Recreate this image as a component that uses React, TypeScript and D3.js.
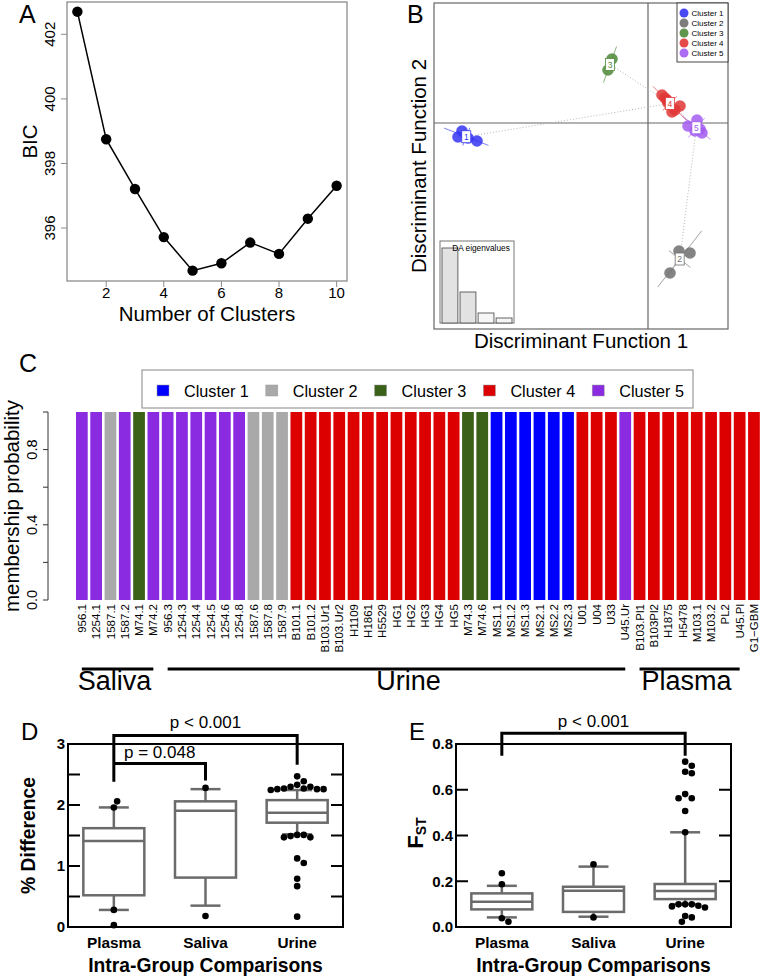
import React from "react";
import * as d3 from "d3";

const FONT = "'Liberation Sans', Arial, Helvetica, sans-serif";

// ---------- Panel A : BIC ----------
const bicK = [1, 2, 3, 4, 5, 6, 7, 8, 9, 10];
const bicValues = [402.7, 398.75, 397.21, 395.72, 394.68, 394.91, 395.55, 395.2, 396.29, 397.31];
const bicXTicks = [2, 4, 6, 8, 10];
const bicYTicks = [396, 398, 400, 402];

// ---------- Panel B : DAPC scatter ----------
const clusterLabels = ["Cluster 1", "Cluster 2", "Cluster 3", "Cluster 4", "Cluster 5"];
const dapcColors = ["#3535f2", "#6f6f6f", "#4f8a3a", "#e03636", "#a35cf0"];
const dapcCluster = [1, 1, 1, 1, 2, 2, 2, 3, 3, 4, 4, 4, 4, 4, 4, 4, 5, 5, 5, 5, 5];
const dapcDF1 = [-9.3, -9.5, -8.55, -9.0, 1.55, 2.1, 1.1, -1.8, -2.0, 0.7, 0.95, 1.6, 1.2, 1.0, 0.85, 1.35, 2.0, 2.45, 2.35, 2.7, 2.6];
const dapcDF2 = [-0.4, -0.7, -0.9, -0.75, -6.4, -6.5, -7.5, 3.2, 2.65, 1.4, 1.15, 0.85, 0.55, 1.0, 1.25, 0.65, -0.15, 0.15, -0.4, -0.5, -0.3];
const mstEdges = [[1, 4], [3, 4], [4, 5], [5, 2]];
const eigenvalues = [7.5, 3.1, 1.0, 0.5];

// ---------- Panel C : membership ----------
const sampleNames = [
  "956.1", "1254.1", "1587.1", "1587.2", "M74.1", "M74.2", "956.3", "1254.3", "1254.4", "1254.5",
  "1254.6", "1254.8", "1587.6", "1587.8", "1587.9", "B101.1", "B101.2", "B103.Ur1", "B103.Ur2", "H1109",
  "H1861", "H5529", "HG1", "HG2", "HG3", "HG4", "HG5", "M74.3", "M74.6", "MS1.1",
  "MS1.2", "MS1.3", "MS2.1", "MS2.2", "MS2.3", "U01", "U04", "U33", "U45.Ur", "B103.Pl1",
  "B103Pl2", "H1875", "H5478", "M103.1", "M103.2", "PL2", "U45.Pl", "G1\u2212GBM",
];
const sampleCluster = [
  5, 5, 2, 5, 3, 5, 5, 5, 5, 5,
  5, 5, 2, 2, 2, 4, 4, 4, 4, 4,
  4, 4, 4, 4, 4, 4, 4, 3, 3, 1,
  1, 1, 1, 1, 1, 4, 4, 4, 5, 4,
  4, 4, 4, 4, 4, 4, 4, 4,
];
const membership = sampleNames.map(() => 1.0);
const memberColors = ["#0000FF", "#A9A9A9", "#3B6119", "#DD0000", "#8A2BE2"];
const membershipTicks = [0, 0.2, 0.4, 0.6, 0.8, 1.0];
const membershipTickLabels = [0, 0.4, 0.8];
const groupNames = ["Saliva", "Urine", "Plasma"];
const groupFirst = ["956.1", "956.3", "B103.Pl1"];
const groupLast = ["M74.2", "U45.Ur", "U45.Pl"];

// ---------- Panels D & E : box plots ----------
const compGroups = ["Plasma", "Saliva", "Urine"];
// [lower whisker, Q1, median, Q3, upper whisker]
const diffStats = [
  [0.28, 0.52, 1.41, 1.62, 1.96],
  [0.35, 0.81, 1.905, 2.06, 2.26],
  [1.52, 1.71, 1.875, 2.08, 2.245],
];
const diffPoints = [
  [1.96, 2.06, 0.28, 0.03],
  [2.28, 0.18],
  [2.47, 2.39, 2.33, 2.3, 2.3, 2.27, 2.27, 2.26, 2.26, 2.26, 2.245, 1.51, 1.51, 1.49, 1.47, 1.47, 1.125, 1.05, 0.79, 0.67, 0.17],
];
const diffTickLabels = [0, 1, 2, 3];
const diffTickMarks = [0.5, 1, 1.5, 2, 2.5];
const fstStats = [
  [0.042, 0.077, 0.11, 0.147, 0.18],
  [0.045, 0.066, 0.159, 0.176, 0.264],
  [0.1, 0.122, 0.157, 0.188, 0.414],
];
const fstPoints = [
  [0.235, 0.187, 0.038, 0.023],
  [0.274, 0.042],
  [0.723, 0.705, 0.679, 0.672, 0.581, 0.563, 0.563, 0.507, 0.414, 0.099, 0.099, 0.099, 0.093, 0.09, 0.085, 0.048, 0.042, 0.023],
];
const fstTickLabels = [0, 0.2, 0.4, 0.6, 0.8];
const fstTickMarks = [0.2, 0.4, 0.6];

function swarmOffsets(values: number[], y: (v: number) => number, d: number): number[] {
  const placed: [number, number][] = [];
  return values.map((v) => {
    const py = y(v);
    for (let k = 0; k < 60; k++) {
      const off = k === 0 ? 0 : (k % 2 === 1 ? 1 : -1) * Math.ceil(k / 2) * d * 0.5;
      if (placed.every(([px, qy]) => Math.hypot(px - off, qy - py) >= d)) {
        placed.push([off, py]);
        return off;
      }
    }
    placed.push([0, py]);
    return 0;
  });
}

function BoxPanel(props: {
  left: number; top: number; width: number; height: number;
  domain: [number, number]; stats: number[][]; points: number[][];
  tickLabels: number[]; tickMarks: number[]; fmt: (v: number) => string;
}) {
  const { left, top, width, height, domain, stats, points, tickLabels, tickMarks, fmt } = props;
  const x = d3.scaleBand<string>().domain(compGroups).range([left, left + width]);
  const y = d3.scaleLinear().domain(domain).range([top + height, top]);
  const bw = 61, cap = 30;
  const gray = "#6b6b6b";
  return (
    <g>
      {compGroups.map((g, i) => {
        const cx = x(g)! + x.bandwidth() / 2;
        const [lo, q1, med, q3, hi] = stats[i];
        const offs = swarmOffsets(points[i], y, 6.6);
        return (
          <g key={g}>
            <line x1={cx} x2={cx} y1={y(q3)} y2={y(hi)} stroke={gray} strokeWidth={2.5} />
            <line x1={cx} x2={cx} y1={y(q1)} y2={y(lo)} stroke={gray} strokeWidth={2.5} />
            <line x1={cx - cap / 2} x2={cx + cap / 2} y1={y(hi)} y2={y(hi)} stroke={gray} strokeWidth={2.5} />
            <line x1={cx - cap / 2} x2={cx + cap / 2} y1={y(lo)} y2={y(lo)} stroke={gray} strokeWidth={2.5} />
            <rect x={cx - bw / 2} y={y(q3)} width={bw} height={y(q1) - y(q3)} fill="white" stroke={gray} strokeWidth={2.5} />
            <line x1={cx - bw / 2} x2={cx + bw / 2} y1={y(med)} y2={y(med)} stroke={gray} strokeWidth={2.5} />
            {points[i].map((v, j) => (
              <circle key={j} cx={cx + offs[j]} cy={y(v)} r={3.3} fill="black" />
            ))}
            <text x={cx} y={top + height + 21} textAnchor="middle" fontSize={15.4} fontWeight="bold">{g}</text>
          </g>
        );
      })}
      <rect x={left} y={top} width={width} height={height} fill="none" stroke="black" strokeWidth={2} />
      {tickMarks.map((t) => (
        <g key={t}>
          <line x1={left} x2={left + 12} y1={y(t)} y2={y(t)} stroke="black" strokeWidth={2} />
          <line x1={left + width - 12} x2={left + width} y1={y(t)} y2={y(t)} stroke="black" strokeWidth={2} />
        </g>
      ))}
      {tickLabels.map((t) => (
        <text key={t} x={left - 3} y={y(t)} dy="0.36em" textAnchor="end" fontSize={15} fontWeight="bold">{fmt(t)}</text>
      ))}
      <text x={left + width / 2} y={top + height + 45} textAnchor="middle" fontSize={19.3} fontWeight="bold">Intra-Group Comparisons</text>
    </g>
  );
}

export default function App() {
  // ----- A -----
  const ax = d3.scaleLinear().domain([0.64, 10.36]).range([67, 347]);
  const ay = d3.scaleLinear().domain([394.36, 403.0]).range([281, 2]);
  const bicLine = d3.line<number>().x((_, i) => ax(bicK[i])).y((d) => ay(d))(bicValues) || "";

  // ----- B -----
  const bx = d3.scaleLinear().domain([-10.7, 4.0]).range([434, 728]);
  const by = d3.scaleLinear().domain([-10.3, 6.0]).range([329, 3]);
  const centroids = [1, 2, 3, 4, 5].map((c) => {
    const idx = dapcCluster.map((k, i) => (k === c ? i : -1)).filter((i) => i >= 0);
    const px = idx.map((i) => bx(dapcDF1[i]));
    const py = idx.map((i) => by(dapcDF2[i]));
    const mx = d3.mean(px)!, my = d3.mean(py)!;
    const a = d3.mean(px.map((v) => (v - mx) ** 2))!;
    const cc = d3.mean(py.map((v) => (v - my) ** 2))!;
    const b = d3.mean(px.map((v, k) => (v - mx) * (py[k] - my)))!;
    const tr = (a + cc) / 2, det = Math.sqrt(((a - cc) / 2) ** 2 + b * b);
    const l1 = tr + det, l2 = Math.max(0, tr - det);
    let vx = 1, vy = 0;
    if (Math.abs(b) > 1e-9) { vx = b; vy = l1 - a; } else if (cc > a) { vx = 0; vy = 1; }
    const n = Math.hypot(vx, vy);
    vx /= n; vy /= n;
    return { c, mx, my, px, py, vx, vy, s1: 2.6 * Math.sqrt(l1) + 4, s2: 2.6 * Math.sqrt(l2) + 3 };
  });
  const eigX = d3.scaleBand<number>().domain(eigenvalues.map((_, i) => i)).range([442, 512]).paddingInner(0.12);
  const eigY = d3.scaleLinear().domain([0, 8.2]).range([323, 241]);

  // ----- C -----
  const cx = d3.scaleBand<string>().domain(sampleNames).range([74.7, 761.1]).paddingInner(0.18).paddingOuter(0.09);
  const cy = d3.scaleLinear().domain([0, 1]).range([600, 412]);
  const center = (n: string) => cx(n)! + cx.bandwidth() / 2;

  return (
    <svg width={762} height={979} style={{ position: "absolute", left: 0, top: 0, background: "white" }} fontFamily={FONT}>
      <rect x={0} y={0} width={762} height={979} fill="white" />

      {/* ===== Panel A ===== */}
      <text x={19} y={23} fontSize={25}>A</text>
      <rect x={67} y={2} width={280} height={279} fill="none" stroke="#8c8c8c" strokeWidth={1.3} />
      {bicYTicks.map((t) => (
        <g key={t}>
          <line x1={61} x2={67} y1={ay(t)} y2={ay(t)} stroke="#8c8c8c" />
          <text transform={`translate(55,${ay(t)}) rotate(-90)`} textAnchor="middle" fontSize={15}>{t}</text>
        </g>
      ))}
      {bicXTicks.map((t) => (
        <g key={t}>
          <line x1={ax(t)} x2={ax(t)} y1={281} y2={287} stroke="#8c8c8c" />
          <text x={ax(t)} y={297.5} textAnchor="middle" fontSize={15}>{t}</text>
        </g>
      ))}
      <text x={207} y={320.5} textAnchor="middle" fontSize={20.5}>Number of Clusters</text>
      <text transform="translate(37,141.5) rotate(-90)" textAnchor="middle" fontSize={20.5}>BIC</text>
      <path d={bicLine} fill="none" stroke="black" strokeWidth={1.5} />
      {bicValues.map((v, i) => (
        <circle key={i} cx={ax(bicK[i])} cy={ay(v)} r={5.2} fill="black" />
      ))}

      {/* ===== Panel B ===== */}
      <text x={407} y={23} fontSize={25}>B</text>
      <line x1={bx(0)} x2={bx(0)} y1={3} y2={329} stroke="#666" strokeWidth={1.2} />
      <line x1={434} x2={728} y1={by(0)} y2={by(0)} stroke="#666" strokeWidth={1.2} />
      {mstEdges.map(([a, b], i) => {
        const A = centroids[a - 1], B = centroids[b - 1];
        return <line key={i} x1={A.mx} y1={A.my} x2={B.mx} y2={B.my} stroke="#b8b8b8" strokeWidth={1} strokeDasharray="1,2" />;
      })}
      {centroids.map((k) => (
        <g key={k.c}>
          <line x1={k.mx - k.vx * k.s1} y1={k.my - k.vy * k.s1} x2={k.mx + k.vx * k.s1} y2={k.my + k.vy * k.s1} stroke={dapcColors[k.c - 1]} strokeWidth={0.8} opacity={0.8} />
          <line x1={k.mx + k.vy * k.s2} y1={k.my - k.vx * k.s2} x2={k.mx - k.vy * k.s2} y2={k.my + k.vx * k.s2} stroke={dapcColors[k.c - 1]} strokeWidth={0.8} opacity={0.8} />
          {k.px.map((p, j) => (
            <line key={j} x1={k.mx} y1={k.my} x2={p} y2={k.py[j]} stroke={dapcColors[k.c - 1]} strokeWidth={0.6} opacity={0.5} />
          ))}
        </g>
      ))}
      {dapcDF1.map((v, i) => (
        <circle key={i} cx={bx(v)} cy={by(dapcDF2[i])} r={5.8} fill={dapcColors[dapcCluster[i] - 1]} opacity={0.85} />
      ))}
      {centroids.map((k) => (
        <g key={k.c}>
          <rect x={k.mx - 4.5} y={k.my - 6} width={9} height={12} fill="white" stroke={dapcColors[k.c - 1]} strokeWidth={0.8} />
          <text x={k.mx} y={k.my + 3.2} textAnchor="middle" fontSize={8.5} fill={dapcColors[k.c - 1]}>{k.c}</text>
        </g>
      ))}
      <rect x={434} y={3} width={294} height={326} fill="none" stroke="#666" strokeWidth={1.2} />
      <rect x={677} y={3} width={51} height={59} fill="white" stroke="#333" strokeWidth={0.9} />
      {clusterLabels.map((l, i) => (
        <g key={l}>
          <circle cx={684} cy={13 + i * 10} r={4.5} fill={dapcColors[i]} opacity={0.9} />
          <text x={691.5} y={16 + i * 10} fontSize={8}>{l}</text>
        </g>
      ))}
      <rect x={440} y={241} width={74} height={82} fill="white" stroke="#777" strokeWidth={1} />
      {eigenvalues.map((v, i) => (
        <rect key={i} x={eigX(i)} y={eigY(v)} width={eigX.bandwidth()} height={323 - eigY(v)} fill={i < 2 ? "#e2e2e2" : "#f6f6f6"} stroke="#555" strokeWidth={0.9} />
      ))}
      <text x={481} y={251} textAnchor="middle" fontSize={8.3}>DA eigenvalues</text>
      <text x={581} y={348} textAnchor="middle" fontSize={20.5}>Discriminant Function 1</text>
      <text transform="translate(426,166) rotate(-90)" textAnchor="middle" fontSize={20.5}>Discriminant Function 2</text>

      {/* ===== Panel C ===== */}
      <text x={19} y={372} fontSize={25}>C</text>
      <rect x={142} y={370} width={551} height={38} fill="white" stroke="#999" strokeWidth={1.2} />
      {clusterLabels.map((l, i) => (
        <g key={l}>
          <rect x={157 + i * 108.8} y={385} width={12} height={11} fill={memberColors[i]} stroke="#999" strokeWidth={0.5} />
          <text x={184 + i * 108.8} y={397} fontSize={16.2}>{l}</text>
        </g>
      ))}
      {sampleNames.map((n, i) => (
        <rect key={n} x={cx(n)} y={cy(membership[i])} width={cx.bandwidth()} height={cy(0) - cy(membership[i])} fill={memberColors[sampleCluster[i] - 1]} />
      ))}
      <line x1={48} x2={48} y1={cy(0)} y2={cy(1)} stroke="#333" />
      {membershipTicks.map((t) => (
        <line key={t} x1={43} x2={48} y1={cy(t)} y2={cy(t)} stroke="#333" />
      ))}
      {membershipTickLabels.map((t) => (
        <text key={t} transform={`translate(37,${cy(t)}) rotate(-90)`} textAnchor="middle" fontSize={14.5}>{t.toFixed(1)}</text>
      ))}
      <text transform={`translate(19,506) rotate(-90)`} textAnchor="middle" fontSize={20.5}>membership probability</text>
      {sampleNames.map((n) => (
        <text key={n} transform={`translate(${center(n)},604) rotate(-90)`} textAnchor="end" dy="0.36em" fontSize={11.5}>{n}</text>
      ))}
      {groupNames.map((g, i) => {
        const x1 = center(groupFirst[i]), x2 = center(groupLast[i]);
        return (
          <g key={g}>
            <line x1={x1} x2={x2} y1={669} y2={669} stroke="black" strokeWidth={3} />
            <text x={(x1 + x2) / 2 + (i === 1 ? 12 : -3)} y={690} textAnchor="middle" fontSize={27}>{g}</text>
          </g>
        );
      })}

      {/* ===== Panel D ===== */}
      <text x={21} y={740} fontSize={24}>D</text>
      <BoxPanel left={68} top={744} width={275} height={183} domain={[0, 3]} stats={diffStats} points={diffPoints}
        tickLabels={diffTickLabels} tickMarks={diffTickMarks} fmt={(v) => String(v)} />
      <text transform="translate(35,835.5) rotate(-90)" textAnchor="middle" fontSize={19.3} fontWeight="bold">% Difference</text>
      {(() => {
        const x = d3.scaleBand<string>().domain(compGroups).range([68, 343]);
        const y = d3.scaleLinear().domain([0, 3]).range([927, 744]);
        const c = (g: string) => x(g)! + x.bandwidth() / 2;
        return (
          <g stroke="black" strokeWidth={3} fill="none">
            <path d={`M${c("Plasma")},${y(2.38)}V${y(3.14)}H${c("Urine")}V${y(2.66)}`} />
            <path d={`M${c("Plasma")},${y(2.68)}H${c("Saliva")}V${y(2.4)}`} />
            <text x={(c("Plasma") + c("Urine")) / 2} y={728} textAnchor="middle" fontSize={17} stroke="none" fill="black">p &lt; 0.001</text>
            <text x={(c("Plasma") + c("Saliva")) / 2} y={758} textAnchor="middle" fontSize={17} stroke="none" fill="black">p = 0.048</text>
          </g>
        );
      })()}

      {/* ===== Panel E ===== */}
      <text x={409} y={740} fontSize={24}>E</text>
      <BoxPanel left={456} top={744} width={275} height={183} domain={[0, 0.8]} stats={fstStats} points={fstPoints}
        tickLabels={fstTickLabels} tickMarks={fstTickMarks} fmt={(v) => v.toFixed(1)} />
      <text transform="translate(423,833) rotate(-90)" textAnchor="middle" fontSize={22} fontWeight="bold">
        F<tspan fontSize={14} dy={3}>ST</tspan>
      </text>
      {(() => {
        const x = d3.scaleBand<string>().domain(compGroups).range([456, 731]);
        const y = d3.scaleLinear().domain([0, 0.8]).range([927, 744]);
        const c = (g: string) => x(g)! + x.bandwidth() / 2;
        return (
          <g stroke="black" strokeWidth={3} fill="none">
            <path d={`M${c("Plasma")},${y(0.749)}V${y(0.847)}H${c("Urine")}V${y(0.749)}`} />
            <text x={(c("Plasma") + c("Urine")) / 2} y={727} textAnchor="middle" fontSize={17} stroke="none" fill="black">p &lt; 0.001</text>
          </g>
        );
      })()}
    </svg>
  );
}
